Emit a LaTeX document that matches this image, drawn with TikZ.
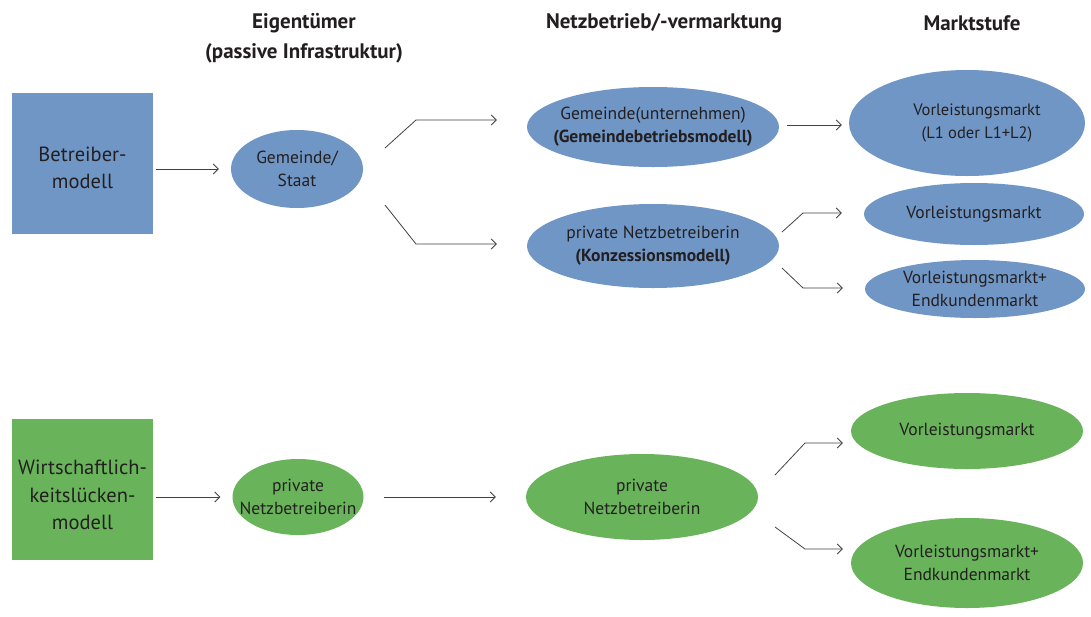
\documentclass[tikz,border=0pt]{standalone}
\usepackage{fontspec}
\setmainfont{PT Sans}
\usetikzlibrary{shapes.geometric,arrows.meta,calc}
\definecolor{bl}{HTML}{7096C6}
\definecolor{gr}{HTML}{69B45B}
\definecolor{tx}{HTML}{231F20}
\begin{document}
\begin{tikzpicture}[x=1pt,y=-1pt,
  hdr/.style={font=\fontsize{21}{30}\selectfont\bfseries, text=tx, align=center},
  sq/.style={draw=none, inner sep=0, minimum width=141pt, minimum height=141pt, text=tx, align=center, font=\fontsize{20.5}{27.5}\selectfont},
  ell/.style={ellipse, draw=none, inner sep=0},
  every label/.style={text=tx, align=center, inner sep=0, font=\fontsize{17.5}{23}\selectfont},
  arr/.style={draw=tx!85, line width=0.8pt, -{Straight Barb[length=5pt,width=10pt,line width=0.9pt]}}
]
\useasboundingbox (0,0) rectangle (1091,616);
\fill[white] (0,0) rectangle (1091,616);
% headers
\node[hdr] (h1) at (304,38) {Eigentümer\\(passive Infrastruktur)};
\node[hdr] (h2) at (664,23) {Netzbetrieb/-vermarktung};
\node[hdr] (h3) at (972,23) {Marktstufe};
% blue
\node[sq, fill=bl] (b1) at (82.5,163) {};
\node[sq, fill=none] (b1t) at (82.5,168) {Betreiber-\\modell};
\node[ell, fill=bl, minimum width=132pt, minimum height=78pt, label={center:{Gemeinde/\\Staat}}] (gs) at (297,169) {};
\node[ell, fill=bl, minimum width=252pt, minimum height=80pt, label={center:{Gemeinde(unternehmen)\\{\bfseries (Gemeindebetriebsmodell)}}}] (gu) at (653,127) {};
\node[ell, fill=bl, minimum width=236pt, minimum height=106pt, label={[font=\fontsize{16.5}{23}\selectfont, xshift=10pt]center:{Vorleistungsmarkt\\(L1 oder L1+L2)}}] (v1) at (967,123) {};
\node[ell, fill=bl, minimum width=252pt, minimum height=84pt, label={center:{private Netzbetreiberin\\{\bfseries (Konzessionsmodell)}}}] (pk) at (653,246) {};
\node[ell, fill=bl, minimum width=220pt, minimum height=62pt, label={center:{Vorleistungsmarkt}}] (v2) at (974,214) {};
\node[ell, fill=bl, minimum width=220pt, minimum height=58pt, label={center:{Vorleistungsmarkt+\\Endkundenmarkt}}] (v3) at (975,289) {};
% green
\node[sq, fill=gr] (b2) at (82.5,489.5) {};
\node[sq, fill=none] (b2t) at (82.5,495) {Wirtschaftlich-\\keitslücken-\\modell};
\node[ell, fill=gr, minimum width=131pt, minimum height=76pt, label={center:{private\\Netzbetreiberin}}] (pn) at (298,497) {};
\node[ell, fill=gr, minimum width=232pt, minimum height=86pt, label={center:{private\\Netzbetreiberin}}] (pm) at (642,497) {};
\node[ell, fill=gr, minimum width=232pt, minimum height=76pt, label={center:{Vorleistungsmarkt}}] (v4) at (967,431) {};
\node[ell, fill=gr, minimum width=232pt, minimum height=90pt, label={center:{Vorleistungsmarkt+\\Endkundenmarkt}}] (v5) at (967,563) {};
% connectors blue
\draw[arr] ($(b1.east |- gs.west)+(3,0)$) -- ($(gs.west)+(-12,0)$);
\coordinate (s1) at (385,148); \coordinate (k1) at (416,120);
\coordinate (s2) at (385,205); \coordinate (k2) at (416,244);
\draw[arr] (s1) -- (k1) -- ($(k1 -| gu.west)+(-30,0)$);
\draw[arr] (s2) -- (k2) -- ($(k2 -| pk.west)+(-30,0)$);
\draw[arr] ($(gu.east)+(8,-2)$) -- ($(v1.west |- gu.east)+(-7,-2)$);
\coordinate (s3) at (782,232); \coordinate (k3) at (803,213);
\coordinate (s4) at (782,268); \coordinate (k4) at (803,288);
\draw[arr] (s3) -- (k3) -- ($(k3 -| v2.west)+(-22,0)$);
\draw[arr] (s4) -- (k4) -- ($(k4 -| v3.west)+(-22,0)$);
% connectors green
\draw[arr] ($(b2.east |- pn.west)+(3,0)$) -- ($(pn.west)+(-12,0)$);
\draw[arr] ($(pn.east)+(20,0)$) -- ($(pm.west |- pn.east)+(-30,0)$);
\coordinate (s5) at (775,475); \coordinate (k5) at (805,443);
\coordinate (s6) at (775,527); \coordinate (k6) at (805,549);
\draw[arr] (s5) -- (k5) -- ($(k5 -| v4.west)+(-8,0)$);
\draw[arr] (s6) -- (k6) -- ($(k6 -| v5.west)+(-8,0)$);
\end{tikzpicture}
\end{document}
